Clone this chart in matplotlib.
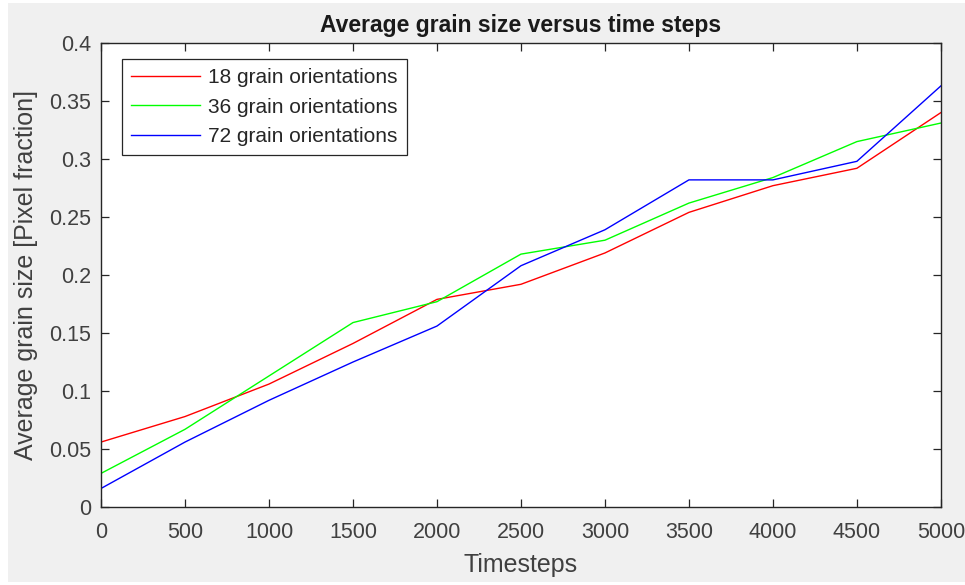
import matplotlib
matplotlib.use("Agg")
import matplotlib.pyplot as plt
from matplotlib.patches import Rectangle

plt.rcParams["font.family"] = ["Liberation Sans", "DejaVu Sans"]

timesteps = [0, 500, 1000, 1500, 2000, 2500, 3000, 3500, 4000, 4500, 5000]
grain_18 = [0.056, 0.078, 0.106, 0.141, 0.179, 0.192, 0.219, 0.254, 0.277, 0.292, 0.340]
grain_36 = [0.029, 0.067, 0.113, 0.159, 0.177, 0.218, 0.230, 0.262, 0.284, 0.315, 0.331]
grain_72 = [0.016, 0.056, 0.092, 0.125, 0.156, 0.208, 0.239, 0.282, 0.282, 0.298, 0.363]

fig = plt.figure(figsize=(9.65, 5.85), dpi=100, facecolor="white")
# grey MATLAB figure panel (thin white margin on the left/bottom of the screenshot)
fig.patches.append(Rectangle((8 / 965, 3 / 585), 1, 579 / 585, transform=fig.transFigure,
                             facecolor="#f0f0f0", edgecolor="none", zorder=-10))
ax = fig.add_axes([0.1047, 0.1333, 0.8703, 0.7932])

ax.plot(timesteps, grain_18, color="#ff0000", lw=1.0, label="18 grain orientations")
ax.plot(timesteps, grain_36, color="#00ff00", lw=1.0, label="36 grain orientations")
ax.plot(timesteps, grain_72, color="#0000ff", lw=1.0, label="72 grain orientations")

ax.set_xlim(0, 5000)
ax.set_ylim(0, 0.4)
ax.set_xticks(range(0, 5001, 500))
ax.set_yticks([0, 0.05, 0.1, 0.15, 0.2, 0.25, 0.3, 0.35, 0.4])
ax.set_yticklabels(["0", "0.05", "0.1", "0.15", "0.2", "0.25", "0.3", "0.35", "0.4"])
ax.tick_params(direction="in", top=True, right=True, length=6, width=0.9,
               labelsize=15.5, colors="#262626", labelcolor="#404040")
ax.tick_params(axis="x", pad=11)
ax.tick_params(axis="y", pad=7)
for s in ax.spines.values():
    s.set_color("#262626")
    s.set_linewidth(1.0)

ax.set_xlabel("Timesteps", fontsize=18, color="#404040")
ax.set_ylabel("Average grain size [Pixel fraction]", fontsize=18, color="#404040")
ax.xaxis.set_label_coords(0.5, -0.1)
ax.yaxis.set_label_coords(-0.075, 0.5)
ax.set_title("Average grain size versus time steps", fontsize=16.5, fontweight="bold",
             color="#1a1a1a", pad=8)

leg = ax.legend(loc="upper left", bbox_to_anchor=(0.025, 0.966), fontsize=15,
                fancybox=False, edgecolor="#262626", framealpha=1.0,
                handlelength=3.3, handletextpad=0.4, borderpad=0.45,
                labelspacing=0.5, borderaxespad=0)
leg.get_frame().set_linewidth(0.9)
for t in leg.get_texts():
    t.set_color("#262626")

fig.savefig("out.png", dpi=100, facecolor=fig.get_facecolor())
